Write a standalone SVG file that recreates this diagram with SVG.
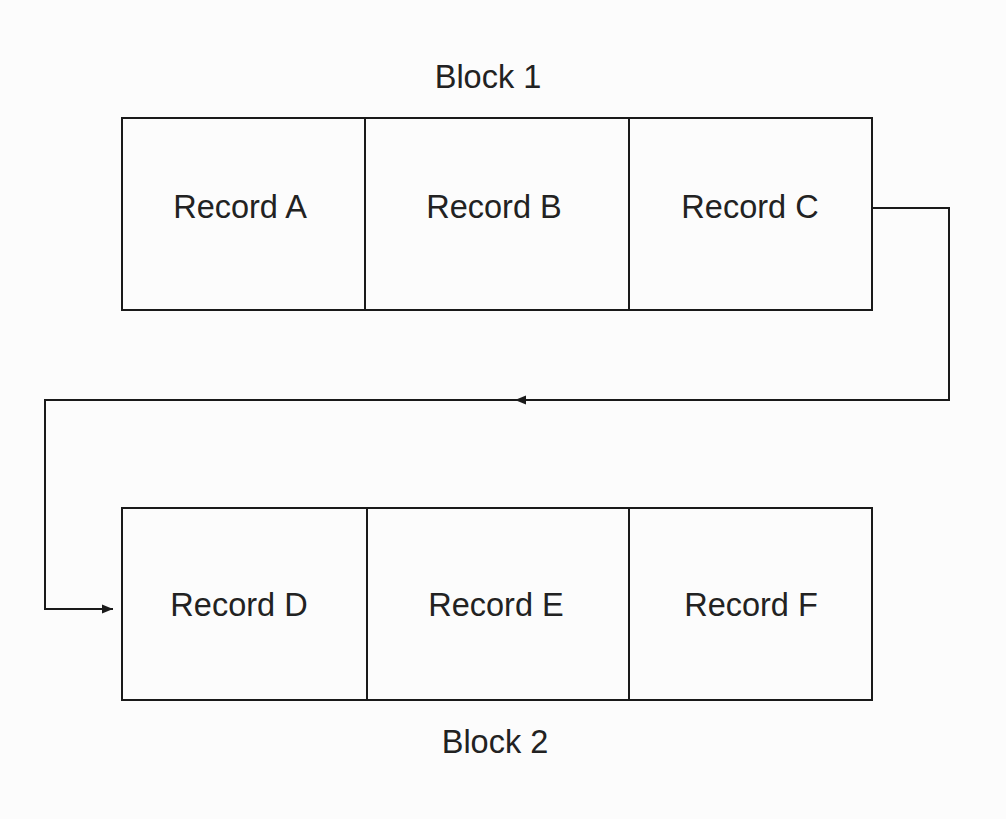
<svg xmlns="http://www.w3.org/2000/svg" width="1006" height="819" viewBox="0 0 1006 819">
<style>
.box{fill:none;stroke:#1a1a1a;stroke-width:2}
.ln{fill:none;stroke:#1a1a1a;stroke-width:2}
.t{font-family:"Liberation Sans",Arial,sans-serif;font-size:32.5px;fill:#222;text-anchor:middle}
</style>
<defs>
<marker id="ah" viewBox="0 0 10 10" refX="10" refY="5" markerWidth="11" markerHeight="11" markerUnits="userSpaceOnUse" orient="auto">
<path d="M0,1 L10,5 L0,9 Z" fill="#1a1a1a"/>
</marker>
</defs>
<rect width="1006" height="819" fill="#fcfcfc"/>
<text class="t" x="488" y="88">Block 1</text>
<text class="t" x="495" y="753">Block 2</text>
<g id="recA"><rect class="box" x="122" y="118" width="243" height="192"/><text class="t" x="240" y="218">Record A</text></g>
<g id="recB"><rect class="box" x="365" y="118" width="264" height="192"/><text class="t" x="494" y="218">Record B</text></g>
<g id="recC"><rect class="box" x="629" y="118" width="243" height="192"/><text class="t" x="750" y="218">Record C</text></g>
<g id="recD"><rect class="box" x="122" y="508" width="245" height="192"/><text class="t" x="239" y="616">Record D</text></g>
<g id="recE"><rect class="box" x="367" y="508" width="262" height="192"/><text class="t" x="496" y="616">Record E</text></g>
<g id="recF"><rect class="box" x="629" y="508" width="243" height="192"/><text class="t" x="751" y="616">Record F</text></g>
<g id="connectors">
<path class="ln" d="M872,208 H949 V400 H515" marker-end="url(#ah)"/>
<path class="ln" d="M520,400 H45 V609 H113" marker-end="url(#ah)"/>
</g>
</svg>
